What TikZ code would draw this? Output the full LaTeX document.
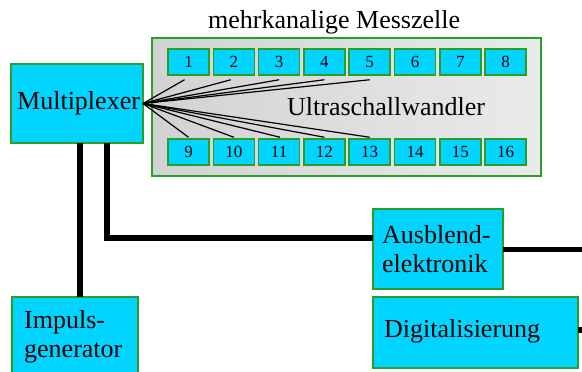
\documentclass[tikz,border=0pt]{standalone}
\usepackage{fontspec}
\setmainfont{Liberation Serif}
\definecolor{boxcyan}{RGB}{0,212,255}
\definecolor{boxgreen}{RGB}{40,160,40}
\definecolor{cellgrayL}{RGB}{210,210,210}
\definecolor{cellgrayR}{RGB}{234,234,234}
\tikzset{
  block/.style={draw=boxgreen, line width=1.6pt, fill=boxcyan},
  chan/.style={draw=boxgreen, line width=1.5pt, fill=boxcyan, minimum width=41pt, minimum height=26pt, inner sep=0pt, font=\fontsize{17}{19}\selectfont},
  big/.style={font=\fontsize{26}{29}\selectfont, inner sep=0pt},
  wire/.style={line width=5.5pt},
  fan/.style={line width=1.2pt},
}
\begin{document}
\begin{tikzpicture}[x=1pt,y=-1pt]
\useasboundingbox (0,0) rectangle (582,372);

% measuring cell with gradient background
\shade[left color=cellgrayL, right color=cellgrayR, draw=boxgreen, line width=1.6pt] (152,38) rectangle (541,176);
\node[big, anchor=base west] (title) at (208,28) {mehrkanalige Messzelle};
\node[big, anchor=base west] (usw) at (287,115) {Ultraschallwandler};

% transducer channels
\foreach \i in {1,...,8} {
  \pgfmathsetmacro{\cx}{188.5+45.3*(\i-1)}
  \node[chan] (t\i) at (\cx,62) {\i};
}
\foreach \i in {9,...,16} {
  \pgfmathsetmacro{\cx}{188.5+45.3*(\i-9)}
  \node[chan] (t\i) at (\cx,152) {\i};
}

% blocks (the base of a two-line label is its last line)
\path[block] (11,64) rectangle (143,143);
\node[big, anchor=base west] (mux) at (17,109) {Multiplexer};
\coordinate (muxout) at (143,103.5);

\path[block] (12,297) rectangle (138,380);
\node[big, anchor=base west, align=left] (imp) at (24,357) {Impuls-\\generator};

\path[block] (373,209) rectangle (503,289);
\node[big, anchor=base west, align=left] (ausb) at (382,272) {Ausblend-\\elektronik};

\path[block] (373,297) rectangle (578,368);
\node[big, anchor=base west] (dig) at (384,337) {Digitalisierung};

% fan-out from multiplexer to channels
\foreach \i/\dx in {1/-4,2/-3,3/0,4/0,5/0} {
  \draw[fan] (muxout) -- ([xshift=\dx pt, yshift=-4pt]t\i.south);
}
\foreach \i/\dx in {9/0,10/0,11/1,12/0,13/0} {
  \draw[fan] (muxout) -- ([xshift=\dx pt, yshift=1pt]t\i.north);
}

% signal wires
\coordinate (m1) at (80,143);
\coordinate (g1) at (80,297);
\draw[wire] (m1) -- (g1);
\coordinate (m2) at (107,143);
\coordinate (a1) at (373,238);
\draw[wire] (m2) |- (a1);
\coordinate (a2) at (503,249.5);
\coordinate (a3) at (582,249.5);
\draw[wire] (a2) -- (a3);
\coordinate (d1) at (578,330);
\coordinate (d2) at (582,330);
\draw[wire] (d1) -- (d2);
\end{tikzpicture}
\end{document}
